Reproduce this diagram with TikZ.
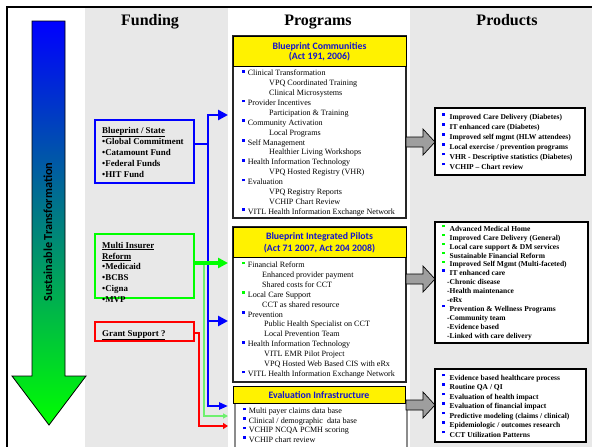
\documentclass[tikz,border=0pt]{standalone}
\usepackage{fontspec}
\setmainfont{Liberation Serif}
\newfontfamily\calib{Carlito}
\usetikzlibrary{arrows.meta}
\definecolor{colgrey}{RGB}{232,232,232}
\definecolor{hdrblue}{RGB}{20,20,205}
\definecolor{arrgrey}{RGB}{158,158,158}
\definecolor{lgreen}{RGB}{110,240,110}
\definecolor{midteal}{RGB}{0,175,165}
\newcommand\bsq[1]{\textcolor{#1}{\rule[3.1pt]{2.7pt}{2.7pt}}\hspace{2.9pt}}
\newcommand\psq[1]{\textcolor{#1}{\rule[4pt]{2.4pt}{2.4pt}}\hspace{5pt}}
\begin{document}
\begin{tikzpicture}[x=1pt,y=-1pt,
  progbox/.style={draw=black!85,line width=1.1pt,fill=white,inner sep=0,outer sep=0,anchor=north west},
  yhead/.style={draw=black,line width=1pt,fill=yellow,inner sep=0,outer sep=0,anchor=north west},
  evbody/.style={draw=black!45,line width=1.6pt,fill=white,inner sep=0,outer sep=0,anchor=north west},
  prodbox/.style={draw=black,line width=1.2pt,fill=white,inner sep=0,outer sep=0,anchor=north west},
  fundbox/.style={line width=2.8pt,inner sep=0,outer sep=0,anchor=north west},
  ptxt/.style={font=\fontsize{8.1}{9}\selectfont,anchor=base west,inner sep=0},
  prtxt/.style={font=\bfseries\fontsize{7.5}{8}\selectfont,anchor=base west,inner sep=0},
  ftxt/.style={font=\bfseries\fontsize{8.9}{10}\selectfont,anchor=base west,inner sep=0},
  htxt/.style={font=\bfseries\fontsize{16}{18}\selectfont,anchor=base,inner sep=0},
  phtxt/.style={font=\calib\bfseries\fontsize{9.8}{11}\selectfont,text=hdrblue,anchor=base,inner sep=0},
  garrow/.style={fill=arrgrey,draw=black,line width=0.7pt,line join=miter},
  bline/.style={draw=blue,line width=2.8pt,line join=miter},
  gline/.style={draw=green,line width=3.3pt},
  gthin/.style={draw=lgreen,line width=1.1pt},
  rline/.style={draw=red,line width=2pt,line join=miter},
  bigtip/.style={-{Triangle[length=10pt,width=10pt]}},
  midtip/.style={-{Triangle[length=9pt,width=7pt]}},
  smalltip/.style={-{Triangle[length=5pt,width=5pt]}},
  redtip/.style={-{Triangle[length=5pt,width=6pt]}}
]
\useasboundingbox (0,0) rectangle (592,447);
\fill[white] (0,0) rectangle (592,447);
\fill[colgrey] (85,8) rectangle (228,447);
\fill[colgrey] (410,8) rectangle (592,447);
\draw[line width=2pt] (7,447) -- (7,7) -- (592,7);

% big gradient arrow
\shadedraw[top color=blue,middle color=midteal,bottom color=green,draw=black,line width=0.8pt,line join=miter]
  (32,21) -- (65,21) -- (65,376) -- (86,376) -- (49,425) -- (12,376) -- (32,376) -- cycle;
\node[rotate=90,font=\calib\bfseries\fontsize{12.2}{14}\selectfont,inner sep=0] (st) at (48,232) {Sustainable Transformation};

% column headers
\node[htxt] (hfund) at (150,25.5) {Funding};
\node[htxt] (hprog) at (318,25.5) {Programs};
\node[htxt] (hprod) at (507,25.5) {Products};

% program boxes
\node[progbox,minimum width=173pt,minimum height=182pt] (bc) at (233,36) {};
\node[yhead,minimum width=173pt,minimum height=30pt] (bch) at (233,36) {};
\node[phtxt] (bct1) at (319.5,49) {Blueprint Communities};
\node[phtxt] (bct2) at (319.5,59.5) {(Act 191, 2006)};

\node[progbox,minimum width=173pt,minimum height=155pt] (bip) at (233,227) {};
\node[yhead,minimum width=173pt,minimum height=30pt] (biph) at (233,227) {};
\node[phtxt] (bipt1) at (319.5,239.5) {Blueprint Integrated Pilots};
\node[phtxt] (bipt2) at (319.5,251) {(Act 71 2007, Act 204 2008)};

\node[evbody,minimum width=172pt,minimum height=50pt] (ev) at (235,403) {};
\node[yhead,minimum width=172pt,minimum height=17pt] (evh) at (233,386) {};
\node[phtxt] (evt) at (319,398) {Evaluation Infrastructure};

% Blueprint Communities items
\node[ptxt] (bc1) at (242,75.8) {\bsq{blue}Clinical Transformation};
\node[ptxt] (bc2) at (269,85.7) {VPQ Coordinated Training};
\node[ptxt] (bc3) at (269,95.6) {Clinical Microsystems};
\node[ptxt] (bc4) at (242,105.4) {\bsq{blue}Provider Incentives};
\node[ptxt] (bc5) at (269,115.3) {Participation \& Training};
\node[ptxt] (bc6) at (242,125.2) {\bsq{blue}Community Activation};
\node[ptxt] (bc7) at (269,135.1) {Local Programs};
\node[ptxt] (bc8) at (242,145.0) {\bsq{blue}Self Management};
\node[ptxt] (bc9) at (269,154.8) {Healthier Living Workshops};
\node[ptxt] (bc10) at (242,164.7) {\bsq{blue}Health Information Technology};
\node[ptxt] (bc11) at (269,174.6) {VPQ Hosted Registry (VHR)};
\node[ptxt] (bc12) at (242,184.5) {\bsq{blue}Evaluation};
\node[ptxt] (bc13) at (269,194.4) {VPQ Registry Reports};
\node[ptxt] (bc14) at (269,204.2) {VCHIP Chart Review};
\node[ptxt] (bc15) at (242,214.1) {\bsq{blue}VITL Health Information Exchange Network};

% Blueprint Integrated Pilots items
\node[ptxt] (bi1) at (242,267.5) {\bsq{green}Financial Reform};
\node[ptxt] (bi2) at (262,277.4) {Enhanced provider payment};
\node[ptxt] (bi3) at (262,287.3) {Shared costs for CCT};
\node[ptxt] (bi4) at (242,297.2) {\bsq{green}Local Care Support};
\node[ptxt] (bi5) at (262,307.1) {CCT as shared resource};
\node[ptxt] (bi6) at (242,317.0) {\bsq{blue}Prevention};
\node[ptxt] (bi7) at (264,326.9) {Public Health Specialist on CCT};
\node[ptxt] (bi8) at (264,336.8) {Local Prevention Team};
\node[ptxt] (bi9) at (242,346.7) {\bsq{blue}Health Information Technology};
\node[ptxt] (bi10) at (264,356.6) {VITL EMR Pilot Project};
\node[ptxt] (bi11) at (264,366.5) {VPQ Hosted Web Based CIS with eRx};
\node[ptxt] (bi12) at (242,376.4) {\bsq{blue}VITL Health Information Exchange Network};

% Evaluation items
\node[ptxt] (ev1) at (243,413.5) {\bsq{blue}Multi payer claims data base};
\node[ptxt] (ev2) at (243,423) {\bsq{blue}Clinical / demographic\ \ data base};
\node[ptxt] (ev3) at (243,432.5) {\bsq{blue}VCHIP NCQA PCMH scoring};
\node[ptxt] (ev4) at (243,442) {\bsq{blue}VCHIP chart review};

% grey block arrows program -> products
\draw[garrow] (406,137) -- (423,137) -- (423,129) -- (435,142) -- (423,155) -- (423,147) -- (406,147) -- cycle;
\draw[garrow] (406,274) -- (423,274) -- (423,266) -- (435,279) -- (423,292) -- (423,284) -- (406,284) -- cycle;
\draw[garrow] (406,400) -- (423,400) -- (423,392) -- (435,405) -- (423,418) -- (423,410) -- (406,410) -- cycle;

% product boxes
\node[prodbox,minimum width=150pt,minimum height=67pt] (p1) at (435,108) {};
\node[prtxt] (p1a) at (442,119.8) {\psq{blue}Improved Care Delivery (Diabetes)};
\node[prtxt] (p1b) at (442,129.7) {\psq{blue}IT enhanced care (Diabetes)};
\node[prtxt] (p1c) at (442,139.6) {\psq{blue}Improved self mgmt (HLW attendees)};
\node[prtxt] (p1d) at (442,149.5) {\psq{blue}Local exercise / prevention programs};
\node[prtxt] (p1e) at (442,159.4) {\psq{blue}VHR - Descriptive statistics (Diabetes)};
\node[prtxt] (p1f) at (442,169.3) {\psq{blue}VCHIP -- Chart review};

\node[prodbox,minimum width=153pt,minimum height=121pt] (p2) at (435,222) {};
\node[prtxt] (p2a) at (442,231.3) {\psq{green}Advanced Medical Home};
\node[prtxt] (p2b) at (442,240.2) {\psq{green}Improved Care Delivery (General)};
\node[prtxt] (p2c) at (442,249.1) {\psq{green}Local care support \& DM services};
\node[prtxt] (p2d) at (442,258.0) {\psq{green}Sustainable Financial Reform};
\node[prtxt] (p2e) at (442,266.9) {\psq{green}Improved Self Mgmt (Multi-faceted)};
\node[prtxt] (p2f) at (442,275.8) {\psq{blue}IT enhanced care};
\node[prtxt] (p2g) at (447,284.7) {-Chronic disease};
\node[prtxt] (p2h) at (447,293.6) {-Health maintenance};
\node[prtxt] (p2i) at (447,302.5) {-eRx};
\node[prtxt] (p2j) at (442,311.4) {\psq{blue}Prevention \& Wellness Programs};
\node[prtxt] (p2k) at (447,320.3) {-Community team};
\node[prtxt] (p2l) at (447,329.2) {-Evidence based};
\node[prtxt] (p2m) at (447,338.1) {-Linked with care delivery};

\node[prodbox,minimum width=151pt,minimum height=73pt] (p3) at (435,369) {};
\node[prtxt] (p3a) at (442,380.3) {\psq{blue}Evidence based healthcare process};
\node[prtxt] (p3b) at (442,389.8) {\psq{blue}Routine QA / QI};
\node[prtxt] (p3c) at (442,399.3) {\psq{blue}Evaluation of health impact};
\node[prtxt] (p3d) at (442,408.8) {\psq{blue}Evaluation of financial impact};
\node[prtxt] (p3e) at (442,418.3) {\psq{blue}Predictive modeling (claims / clinical)};
\node[prtxt] (p3f) at (442,427.8) {\psq{blue}Epidemiologic / outcomes research};
\node[prtxt] (p3g) at (442,437.3) {\psq{blue}CCT Utilization Patterns};

% funding boxes
\node[fundbox,draw=blue,minimum width=99pt,minimum height=63pt] (bs) at (95,120) {};
\node[ftxt] (bs1) at (102,133) {\underline{Blueprint / State}};
\node[ftxt] (bs2) at (102,144) {\textbullet Global Commitment};
\node[ftxt] (bs3) at (102,155) {\textbullet Catamount Fund};
\node[ftxt] (bs4) at (102,166.3) {\textbullet Federal Funds};
\node[ftxt] (bs5) at (102,177) {\textbullet HIT Fund};

\node[fundbox,draw=green,minimum width=99pt,minimum height=64pt] (gs) at (95,234) {};
\node[ftxt] (gs1) at (102,248) {\underline{Multi Insurer}};
\node[ftxt] (gs2) at (102,259) {\underline{Reform}};
\node[ftxt] (gs3) at (102,269) {\textbullet Medicaid};
\node[ftxt] (gs4) at (102,280) {\textbullet BCBS};
\node[ftxt] (gs5) at (102,291) {\textbullet Cigna};
\node[ftxt] (gs6) at (102,302) {\textbullet MVP};

\node[fundbox,draw=red,line width=2.4pt,minimum width=99pt,minimum height=19pt] (rs) at (95,322) {};
\node[ftxt] (rs1) at (102,336) {\underline{Grant Support ?}};

% connectors
\coordinate (bsout) at (194,144);
\coordinate (bj) at (208,144);
\coordinate (ba1) at (228,115);
\coordinate (bj2) at (208,321);
\coordinate (ba2) at (228,321);
\coordinate (ba3) at (228,406);
\coordinate (gsout) at (194,263);
\coordinate (ga1) at (228,263);
\coordinate (gt0) at (204,263);
\coordinate (ga2) at (228,416);
\coordinate (rsout) at (194,333);
\coordinate (rj) at (199,333);
\coordinate (ra) at (228,426);

\draw[gthin,smalltip] (gt0) |- (ga2);
\draw[rline,redtip] (rsout) -- (rj) |- (ra);
\draw[bline,bigtip] (bsout) -- (bj) |- (ba1);
\draw[bline,midtip] (bj) |- (ba3);
\draw[bline,bigtip] (bj2) -- (ba2);
\draw[gline,bigtip] (gsout) -- (ga1);
\end{tikzpicture}
\end{document}
